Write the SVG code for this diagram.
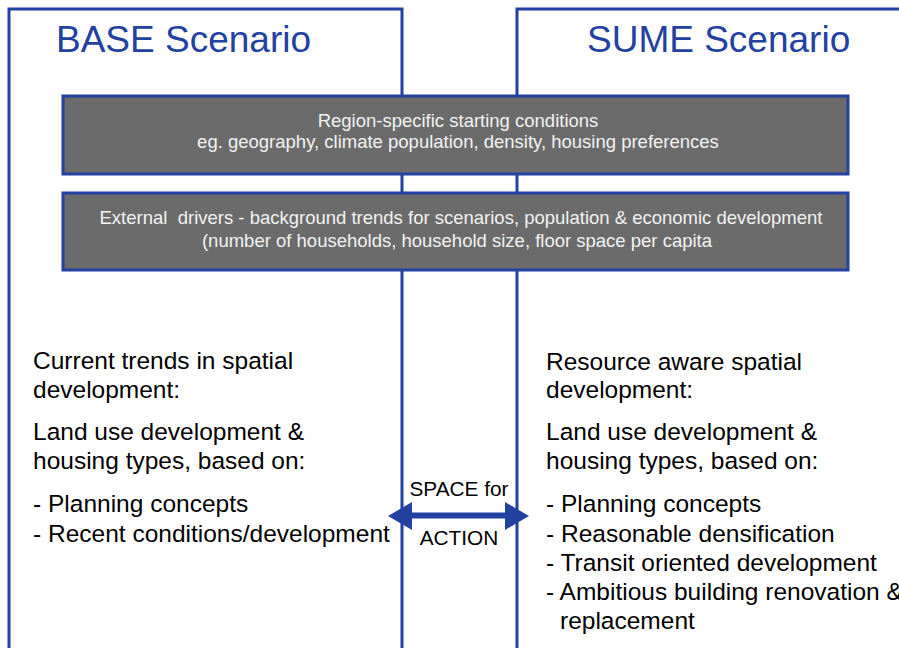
<svg xmlns="http://www.w3.org/2000/svg" width="899" height="648" viewBox="0 0 899 648">
<style>
.frame{fill:none;stroke:#2341a0;stroke-width:3}
.box{fill:#6b6b6b;stroke:#2341a0;stroke-width:3}
.title{font-family:"Liberation Sans",Arial,sans-serif;font-size:37px;fill:#2341a0}
.btxt{font-family:"Liberation Sans",Arial,sans-serif;font-size:18.5px;fill:#f2f2f2;text-anchor:middle}
.body{font-family:"Liberation Sans",Arial,sans-serif;font-size:24.5px;fill:#000}
.lbl{font-family:"Liberation Sans",Arial,sans-serif;font-size:20.8px;fill:#000;text-anchor:middle}
</style>
<rect width="899" height="648" fill="#fff"/>
<g id="base">
<path class="frame" d="M9,660 V9 H402 V660"/>
<text class="title" x="56" y="52">BASE Scenario</text>
<text class="body" x="33" y="369">Current trends in spatial</text>
<text class="body" x="33" y="398">development:</text>
<text class="body" x="33" y="440">Land use development &amp;</text>
<text class="body" x="33" y="469">housing types, based on:</text>
<text class="body" x="33" y="512">- Planning concepts</text>
<text class="body" x="33" y="542">- Recent conditions/development</text>
</g>
<g id="sume">
<path class="frame" d="M517,660 V9 H910"/>
<text class="title" x="587" y="52">SUME Scenario</text>
<text class="body" x="546" y="370">Resource aware spatial</text>
<text class="body" x="546" y="398">development:</text>
<text class="body" x="546" y="440">Land use development &amp;</text>
<text class="body" x="546" y="469">housing types, based on:</text>
<text class="body" x="546" y="512">- Planning concepts</text>
<text class="body" x="546" y="542">- Reasonable densification</text>
<text class="body" x="546" y="571">- Transit oriented development</text>
<text class="body" x="546" y="600">- Ambitious building renovation &amp;</text>
<text class="body" x="560" y="629">replacement</text>
</g>
<g id="starting">
<rect class="box" x="63" y="96" width="785" height="78"/>
<text class="btxt" x="458" y="127">Region-specific starting conditions</text>
<text class="btxt" x="458" y="148">eg. geography, climate population, density, housing preferences</text>
</g>
<g id="drivers">
<rect class="box" x="63" y="193" width="785" height="77"/>
<text class="btxt" x="461" y="224" xml:space="preserve">External  drivers - background trends for scenarios, population &amp; economic development</text>
<text class="btxt" x="457" y="247">(number of households, household size, floor space per capita</text>
</g>
<g id="connectors">
<rect x="410" y="512.5" width="97" height="6" fill="#2341a0"/>
<polygon points="388,516 412,502 412,530" fill="#2341a0"/>
<polygon points="529,516 505,502 505,530" fill="#2341a0"/>
<text class="lbl" x="459" y="496">SPACE for</text>
<text class="lbl" x="459" y="545">ACTION</text>
</g>
</svg>
